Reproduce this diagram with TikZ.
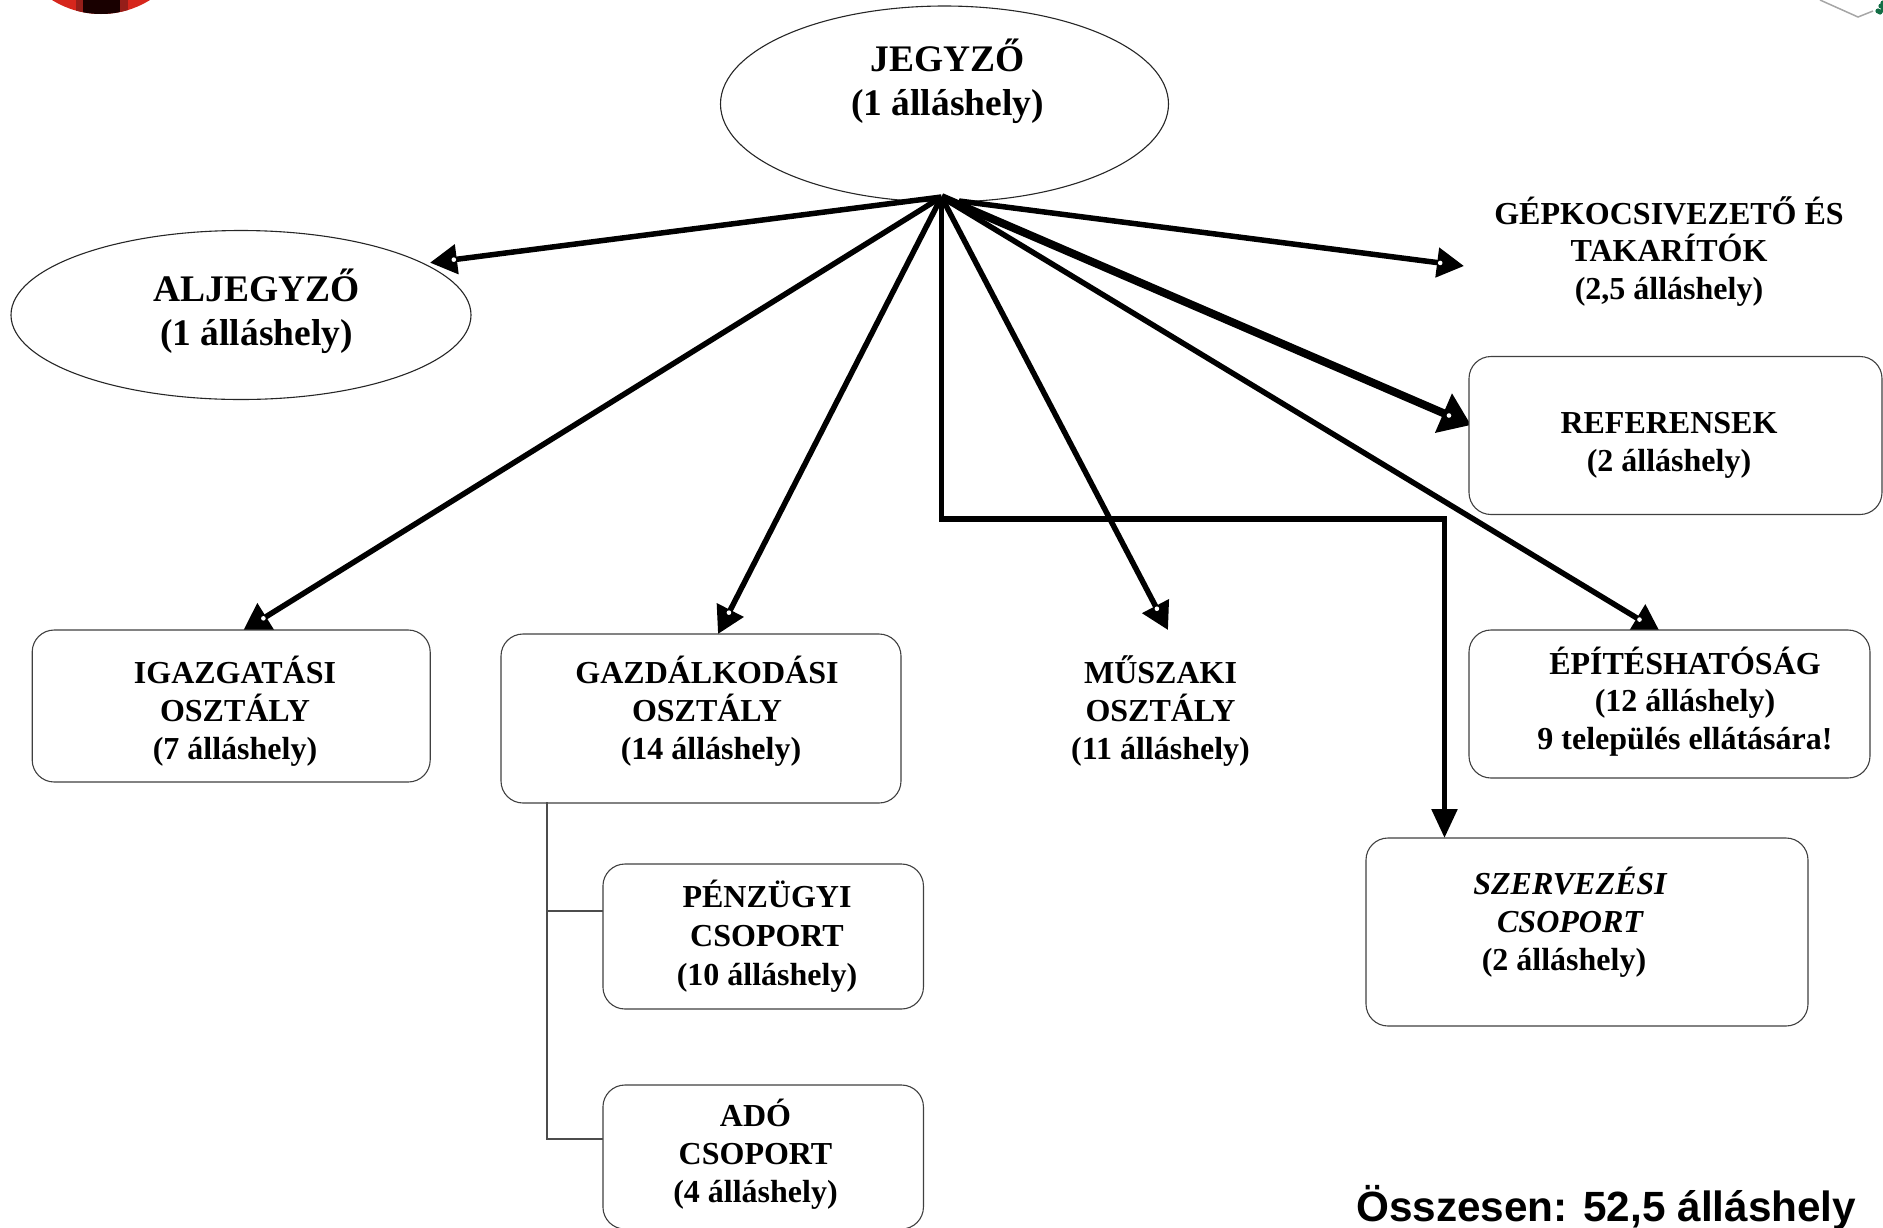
\documentclass[tikz,border=0pt]{standalone}
\usepackage{fontspec}
\setmainfont{Liberation Serif}
\newfontfamily\osszesfont{Liberation Sans}
\usetikzlibrary{arrows.meta,calc,shapes.geometric}

\definecolor{cimerpiros}{RGB}{214,38,28}
\definecolor{cimersotet}{RGB}{150,30,25}
\definecolor{cimerzold}{RGB}{20,110,70}

\tikzset{
  doboz/.style={draw=black!75, line width=1.1pt, rounded corners=22pt, fill=white, inner sep=0pt},
  ovalis/.style={draw=black!85, line width=1.1pt, ellipse, inner sep=0pt},
  felirat/.style={align=center, font=\fontsize{32}{37.8}\selectfont\bfseries, inner sep=0pt},
  nagyfelirat/.style={align=center, font=\fontsize{37.5}{44}\selectfont\bfseries, inner sep=0pt},
  vekony/.style={draw=black!70, line width=1.1pt}
}

\newcommand{\nyil}[5]{%
 \draw[line width=#1, line join=miter, -{Triangle[length=#4pt, width=#5pt]}] (#2) -- (#3);
 \fill[white] ($(#3)!24pt!(#2)$) circle (2.3);}

\begin{document}
\begin{tikzpicture}[x=1pt, y=-1pt]
\useasboundingbox (0,0) rectangle (1883,1227);
\clip (0,0) rectangle (1883,1227);

% a ket cimer maradeka
\begin{scope}
\clip (101,-78.7) circle (92.7);
\fill[cimerpiros] (0,-10) rectangle (200,20);
\fill[cimersotet] (76,-10) rectangle (83,20);
\fill[cimersotet] (120,-10) rectangle (128,20);
\fill[black!90!red] (83,-10) rectangle (120,20);
\end{scope}
\draw[black!35, line width=1.5pt] (1820,0) -- (1858,17) -- (1873,11);
\foreach \x/\y in {1878/11, 1881/6, 1880/12, 1883/3, 1883/10}
  \fill[cimerzold] (\x,\y) circle (2.6);

\node[ovalis, minimum width=448pt, minimum height=196pt] (jegyzo) at (944.5,104) {};
\node[ovalis, minimum width=460pt, minimum height=169pt] (aljegyzo) at (241,315) {};

\coordinate (csucs) at (941.5,197);
\coordinate (gepkocsistart) at (959,201);
\coordinate (aljegyzotip) at (430,262.7);
\coordinate (gepkocsitip) at (1464,266);
\coordinate (referenstip) at (1471,425);
\coordinate (igazgatasitip) at (243,631);
\coordinate (gazdatip) at (718,634);
\coordinate (muszakitip) at (1168,630);
\coordinate (epitestip) at (1660,632);
\coordinate (szervezestip) at (1444.5,838);
\coordinate (torzs) at (547,802);
\coordinate (penzagazat) at (603,911);
\coordinate (adoagazat) at (603,1139);

\nyil{5.5pt}{csucs}{aljegyzotip}{27}{29}
\nyil{5.5pt}{gepkocsistart}{gepkocsitip}{27}{29}
\nyil{8pt}{csucs}{referenstip}{30}{41}
\nyil{5.5pt}{csucs}{igazgatasitip}{27}{31}
\nyil{5.5pt}{csucs}{gazdatip}{27}{29}
\nyil{5.5pt}{csucs}{muszakitip}{27}{29}
\nyil{5.5pt}{csucs}{epitestip}{27}{31}
\draw[line width=5.5pt, line join=miter, -{Triangle[length=29pt, width=25pt]}] (csucs) |- (1444.5,519) -- (szervezestip);

\node[doboz, minimum width=398pt, minimum height=152pt] (igazgatasi) at (231.2,706) {};
\node[doboz, minimum width=400pt, minimum height=169pt] (gazdalkodasi) at (701,718.5) {};
\node[doboz, minimum width=320.5pt, minimum height=145pt] (penzugyi) at (763.2,936.5) {};
\node[doboz, minimum width=320.5pt, minimum height=144pt] (ado) at (763.2,1157) {};
\node[doboz, minimum width=413pt, minimum height=158pt] (referensek) at (1675.5,435.5) {};
\node[doboz, minimum width=401pt, minimum height=148pt] (epites) at (1669.5,704) {};
\node[doboz, minimum width=442pt, minimum height=188pt] (szervezesi) at (1587,932) {};

\draw[vekony] (torzs) |- (penzagazat);
\draw[vekony] (torzs) |- (adoagazat);

\node[nagyfelirat] (jegyzofelirat) at (947.5,81.5) {JEGYZŐ\\(1 álláshely)};
\node[nagyfelirat] (aljegyzofelirat) at (256.5,311) {ALJEGYZŐ\\(1 álláshely)};
\node[felirat] (gepkocsi) at (1669,251.5) {GÉPKOCSIVEZETŐ ÉS\\TAKARÍTÓK\\(2,5 álláshely)};
\node[felirat] (referensekfelirat) at (1669,445.5) {REFERENSEK\\(2 álláshely)};
\node[felirat] (igazgatasifelirat) at (235,711) {IGAZGATÁSI\\OSZTÁLY\\(7 álláshely)};
\node[felirat] (gazdafelirat) at (707,711) {GAZDÁLKODÁSI\\OSZTÁLY\\\hspace*{8pt}(14 álláshely)};
\node[felirat] (muszaki) at (1160.5,711) {MŰSZAKI\\OSZTÁLY\\(11 álláshely)};
\node[felirat] (epitesfelirat) at (1685,701.5) {ÉPÍTÉSHATÓSÁG\\(12 álláshely)\\9 település ellátására!};
\node[felirat, font=\fontsize{32}{39}\selectfont\bfseries] (penzugyifelirat) at (767,936) {PÉNZÜGYI\\CSOPORT\\(10 álláshely)};
\node[felirat] (adofelirat) at (755.5,1154.5) {ADÓ\\CSOPORT\\(4 álláshely)};
\node[felirat] (szervezesifelirat) at (1570,922.5) {\itshape SZERVEZÉSI\\\itshape CSOPORT\\\hspace*{-12pt}(2 álláshely)};
\node[anchor=base west, inner sep=0pt, font=\osszesfont\fontsize{42.3}{50}\selectfont\bfseries] (osszesen) at (1356,1221) {Összesen: 52,5 álláshely};
\end{tikzpicture}
\end{document}
